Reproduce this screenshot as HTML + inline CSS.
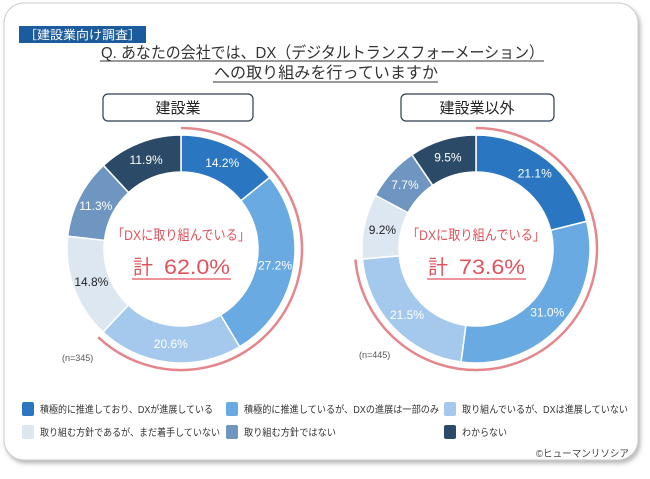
<!DOCTYPE html>
<html><head><meta charset="utf-8"><style>
body{margin:0;width:650px;height:474px;background:#fff;overflow:hidden;font-family:"Liberation Sans","Noto Sans CJK JP",sans-serif}
</style></head><body>
<svg id="s" width="650" height="474" xmlns="http://www.w3.org/2000/svg" font-family="Liberation Sans, Noto Sans CJK JP, sans-serif">
<defs><filter id="sh" x="-5%" y="-5%" width="110%" height="110%"><feDropShadow dx="2" dy="3" stdDeviation="2" flood-color="#888" flood-opacity="0.6"/></filter></defs>
<rect x="4" y="3" width="634" height="457" rx="20" fill="#fff" stroke="#ccc" filter="url(#sh)"/>
<rect x="19" y="26" width="127" height="17" fill="#1d5c9c"/>
<text x="24" y="39" font-size="12" fill="#fff" textLength="117" lengthAdjust="spacingAndGlyphs">［建設業向け調査］</text>
<text x="101" y="58" font-size="16" fill="#333" textLength="443" lengthAdjust="spacingAndGlyphs">Q. あなたの会社では、DX（デジタルトランスフォーメーション）</text>
<line x1="100" y1="61" x2="544" y2="61" stroke="#333" stroke-width="1"/>
<text x="214" y="78" font-size="16" fill="#333" textLength="224" lengthAdjust="spacingAndGlyphs">への取り組みを行っていますか</text>
<line x1="213" y1="82" x2="438" y2="82" stroke="#333" stroke-width="1"/>
<rect x="103" y="94" width="150" height="27" rx="5" fill="#fff" stroke="#2d3e50" stroke-width="1.2"/>
<text x="178" y="113" font-size="15" fill="#222" text-anchor="middle">建設業</text>
<rect x="401" y="94" width="153" height="27" rx="5" fill="#fff" stroke="#2d3e50" stroke-width="1.2"/>
<text x="477" y="113" font-size="15" fill="#222" text-anchor="middle">建設業以外</text>
<g id="g"></g>
<text x="62" y="361" font-size="9" fill="#555">(n=345)</text>
<text x="359" y="358" font-size="9" fill="#555">(n=445)</text>
<g font-size="10" fill="#333">
<rect x="22" y="402" width="12" height="14" rx="2" fill="#2a76c0"/><text x="40" y="413" textLength="173" lengthAdjust="spacingAndGlyphs">積極的に推進しており、DXが進展している</text>
<rect x="226" y="402" width="12" height="14" rx="2" fill="#6aaae2"/><text x="244" y="413" textLength="195" lengthAdjust="spacingAndGlyphs">積極的に推進しているが、DXの進展は一部のみ</text>
<rect x="444" y="402" width="12" height="14" rx="2" fill="#a5c9ec"/><text x="462" y="413" textLength="166" lengthAdjust="spacingAndGlyphs">取り組んでいるが、DXは進展していない</text>
<rect x="22" y="425" width="12" height="14" rx="2" fill="#dde7f1"/><text x="40" y="436" textLength="180" lengthAdjust="spacingAndGlyphs">取り組む方針であるが、まだ着手していない</text>
<rect x="226" y="425" width="12" height="14" rx="2" fill="#6e96c0"/><text x="244" y="436" textLength="92" lengthAdjust="spacingAndGlyphs">取り組む方針ではない</text>
<rect x="444" y="425" width="12" height="14" rx="2" fill="#2b4a68"/><text x="462" y="436" textLength="45" lengthAdjust="spacingAndGlyphs">わからない</text>
<text x="536" y="457" font-size="10" fill="#444" textLength="93" lengthAdjust="spacingAndGlyphs">©ヒューマンリソシア</text>
</g>
</svg>
<script>
var cols=["#2a76c0","#6aaae2","#a5c9ec","#dde7f1","#6e96c0","#2b4a68"];
var tc=["#fff","#fff","#fff","#222","#fff","#fff"];
function P(cx,cy,r,a){a=a*Math.PI/180;return [cx+r*Math.sin(a),cy-r*Math.cos(a)];}
var h="";
function donut(cx,cy,vals,total){
 var ro=114,ri=77,a=0;
 vals.forEach(function(v,i){
  var a2=a+v*3.6,l=(a2-a)>180?1:0;
  var p1=P(cx,cy,ro,a),p2=P(cx,cy,ro,a2),p3=P(cx,cy,ri,a2),p4=P(cx,cy,ri,a);
  h+='<path d="M'+p1+' A'+ro+','+ro+' 0 '+l+' 1 '+p2+' L'+p3+' A'+ri+','+ri+' 0 '+l+' 0 '+p4+'Z" fill="'+cols[i]+'" stroke="#fff" stroke-width="1.5"/>';
  var m=P(cx,cy,(ro+ri)/2,(a+a2)/2);
  h+='<text x="'+m[0]+'" y="'+(m[1]+4)+'" font-size="12" fill="'+tc[i]+'" text-anchor="middle">'+v.toFixed(1)+'%</text>';
  a=a2;
 });
 var e=total*3.6,q1=P(cx,cy,121,0),q2=P(cx,cy,121,e);
 h+='<path d="M'+q1+' A121,121 0 '+(e>180?1:0)+' 1 '+q2+'" fill="none" stroke="#e4868b" stroke-width="2.5"/>';
 h+='<text x="'+(cx-69)+'" y="'+(cy-9)+'" font-size="14" fill="#e0535c" textLength="138" lengthAdjust="spacingAndGlyphs">「DXに取り組んでいる」</text>';
 h+='<text x="'+(cx-48)+'" y="'+(cy+25)+'" font-size="20" fill="#e0535c">計</text>';
 h+='<text x="'+(cx-17)+'" y="'+(cy+25)+'" font-size="21" fill="#e0535c" textLength="66" lengthAdjust="spacingAndGlyphs">'+total.toFixed(1)+'%</text>';
 h+='<line x1="'+(cx-49)+'" y1="'+(cy+30)+'" x2="'+(cx+50)+'" y2="'+(cy+30)+'" stroke="#e0535c" stroke-width="1.3"/>';
}
donut(181,249,[14.2,27.2,20.6,14.8,11.3,11.9],62.0);
donut(476,249,[21.1,31.0,21.5,9.2,7.7,9.5],73.6);
document.getElementById("g").innerHTML=h;
</script>
</body></html>
